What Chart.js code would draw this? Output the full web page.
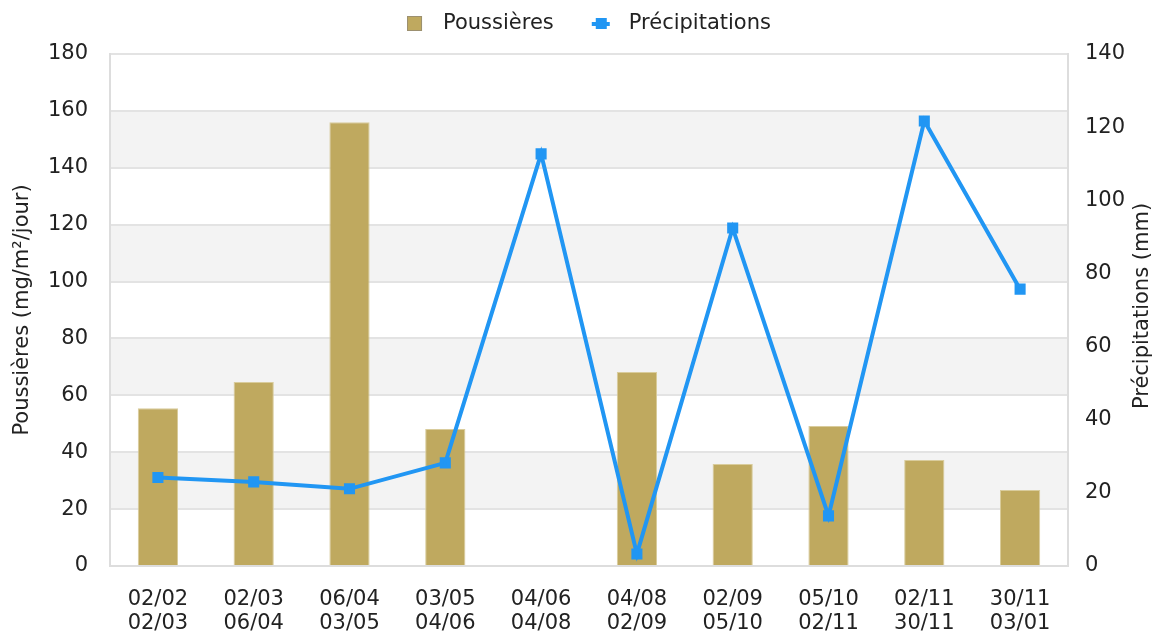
<!DOCTYPE html>
<html>
<head>
<meta charset="utf-8">
<script src="https://cdn.jsdelivr.net/npm/chart.js@4/dist/chart.umd.min.js"></script>
<style>
  html, body { margin: 0; padding: 0; background: #fff; }
  #cadre { width: 1156px; height: 634px; }
</style>
</head>
<body>
<div id="cadre"><canvas id="graphique"></canvas></div>
<script>
// Périodes (début / fin)
const periodes = [
    ['02/02', '02/03'], ['02/03', '06/04'], ['06/04', '03/05'], ['03/05', '04/06'],
    ['04/06', '04/08'], ['04/08', '02/09'], ['02/09', '05/10'], ['05/10', '02/11'],
    ['02/11', '30/11'], ['30/11', '03/01']
];
// Poussières (mg/m²/jour)
const poussieres = [55.5, 64.7, 156, 48.2, null, 68.2, 35.9, 49.2, 37.3, 26.7];
// Précipitations (mm)
const precipitations = [24.2, 23, 21.1, 28.2, 112.7, 3.3, 92.4, 13.7, 121.7, 75.7];

const police = "'DejaVu Sans', sans-serif";
const couleurTexte = '#222';
const couleurBarre = '#bfa95f';
const couleurLigne = '#2196f3';
Chart.defaults.font.family = police;
Chart.defaults.font.size = 21;
Chart.defaults.color = couleurTexte;

// Bandes grises alternées derrière le graphique
const bandes = {
    id: 'bandes',
    beforeDraw(chart) {
        const { ctx, chartArea, scales } = chart;
        const y = scales.y;
        ctx.save();
        ctx.fillStyle = '#f3f3f3';
        for (let v = 20; v < 180; v += 40) {
            const haut = y.getPixelForValue(v + 20);
            const bas = y.getPixelForValue(v);
            ctx.fillRect(chartArea.left, haut, chartArea.right - chartArea.left, bas - haut);
        }
        ctx.restore();
    }
};

// Légende dessinée à la main (carré pour les barres, trait + carré pour la ligne)
const legende = {
    id: 'legende',
    afterDraw(chart) {
        const { ctx, chartArea } = chart;
        const t1 = 'Poussières', t2 = 'Précipitations';
        ctx.save();
        ctx.font = '21px ' + police;
        const l1 = ctx.measureText(t1).width, l2 = ctx.measureText(t2).width;
        const total = 15 + 21 + l1 + 38 + 18 + 19 + l2;
        let x = (chartArea.left + chartArea.right) / 2 - total / 2;
        const y = 24;
        ctx.fillStyle = couleurBarre;
        ctx.fillRect(x, y - 8, 15, 15);
        ctx.strokeStyle = '#9c9070';
        ctx.lineWidth = 1;
        ctx.strokeRect(x + 0.5, y - 7.5, 14, 14);
        x += 15 + 21;
        ctx.fillStyle = couleurTexte;
        ctx.textBaseline = 'middle';
        ctx.fillText(t1, x, y);
        x += l1 + 38;
        ctx.strokeStyle = couleurLigne;
        ctx.lineWidth = 4;
        ctx.beginPath();
        ctx.moveTo(x, y);
        ctx.lineTo(x + 18, y);
        ctx.stroke();
        ctx.fillStyle = couleurLigne;
        ctx.fillRect(x + 4, y - 6, 11, 11);
        x += 18 + 19;
        ctx.fillStyle = couleurTexte;
        ctx.fillText(t2, x, y);
        ctx.restore();
    }
};

// Titre de l'axe de droite, lu de bas en haut comme à gauche
const titreDroite = {
    id: 'titreDroite',
    afterDraw(chart) {
        const { ctx, chartArea } = chart;
        ctx.save();
        ctx.font = '21px ' + police;
        ctx.fillStyle = couleurTexte;
        ctx.textAlign = 'center';
        ctx.textBaseline = 'middle';
        ctx.translate(1143, (chartArea.top + chartArea.bottom) / 2 - 4);
        ctx.rotate(-Math.PI / 2);
        ctx.fillText('Précipitations (mm)', 0, 0);
        ctx.restore();
    }
};

new Chart(document.getElementById('graphique'), {
    data: {
        labels: periodes,
        datasets: [
            {
                type: 'line',
                label: 'Précipitations',
                data: precipitations,
                yAxisID: 'y2',
                borderColor: couleurLigne,
                backgroundColor: couleurLigne,
                borderWidth: 4,
                pointStyle: 'rect',
                pointRadius: 5,
                pointHoverRadius: 5,
                tension: 0,
                order: 0
            },
            {
                type: 'bar',
                label: 'Poussières',
                data: poussieres,
                yAxisID: 'y',
                backgroundColor: couleurBarre,
                borderColor: '#d9cc9c',
                borderWidth: 1,
                barPercentage: 1,
                categoryPercentage: 0.42,
                order: 1
            }
        ]
    },
    options: {
        responsive: true,
        maintainAspectRatio: false,
        animation: false,
        layout: { padding: { left: 8, right: 30, top: 54, bottom: 0 } },
        plugins: {
            legend: { display: false },
            tooltip: { enabled: false }
        },
        scales: {
            x: {
                grid: { display: false, drawTicks: false },
                border: { color: '#dddddd', width: 2 },
                ticks: { padding: 21, maxRotation: 0, autoSkip: false, color: couleurTexte,
                         font: { size: 21, lineHeight: 1.17 } },
                afterFit: (echelle) => { echelle.height = 68; }
            },
            y: {
                position: 'left',
                min: 0, max: 180,
                ticks: { stepSize: 20, padding: 22, color: couleurTexte },
                grid: { color: '#e3e3e3', lineWidth: 2, drawTicks: false },
                border: { color: '#dddddd', width: 2 },
                title: { display: true, text: 'Poussières (mg/m²/jour)', color: couleurTexte,
                         padding: { top: 2, bottom: 12 } },
                afterFit: (echelle) => { echelle.width = 102; }
            },
            y2: {
                position: 'right',
                min: 0, max: 140,
                ticks: { stepSize: 20, padding: 17, color: couleurTexte },
                grid: { display: false, drawTicks: false },
                border: { color: '#dddddd', width: 2 },
                afterFit: (echelle) => { echelle.width = 58; }
            }
        }
    },
    plugins: [bandes, legende, titreDroite]
});
</script>
</body>
</html>
